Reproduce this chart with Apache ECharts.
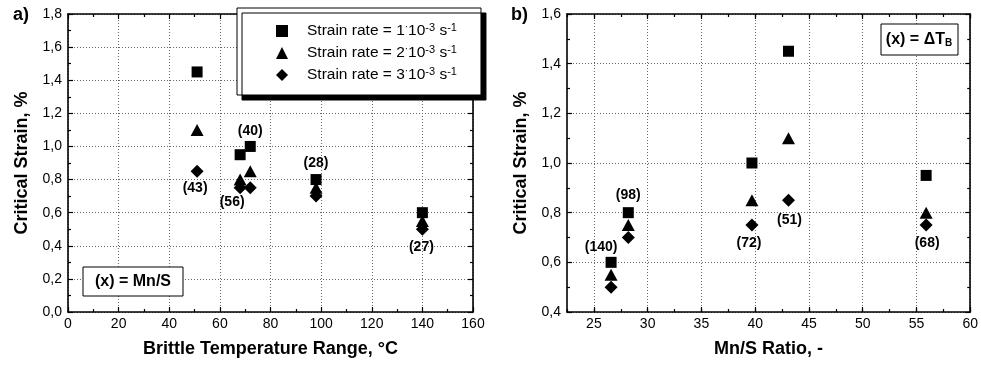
<!DOCTYPE html>
<html><head><meta charset="utf-8">
<script src="https://cdn.jsdelivr.net/npm/echarts@6/dist/echarts.min.js"></script>
<style>html,body{margin:0;padding:0;background:#fff}#c{width:981px;height:367px}</style>
</head><body><div id="c"></div>
<script>
// ---- Data ----
const brittleTempRange = [51, 68, 72, 98, 140];          // x of panel a)
const mnsRatio = [43.1, 55.9, 39.7, 28.2, 26.6];          // x of panel b)
const strainRate1 = [1.45, 0.95, 1.00, 0.80, 0.60];
const strainRate2 = [1.10, 0.80, 0.85, 0.75, 0.55];
const strainRate3 = [0.85, 0.75, 0.75, 0.70, 0.50];
const mnsLabels = ['(43)', '(56)', '(40)', '(28)', '(27)'];
const btrLabels = ['(51)', '(68)', '(72)', '(98)', '(140)'];
const rateNames = ['Strain rate = 1·10⁻³ s⁻¹', 'Strain rate = 2·10⁻³ s⁻¹', 'Strain rate = 3·10⁻³ s⁻¹'];
const rightXTicks = [25, 30, 35, 40, 45, 50, 55, 60];

// ---- Styles ----
const FONT = '"Liberation Sans", Arial, sans-serif';
const symbols = ['rect', 'triangle', 'diamond'];
const symbolSizes = [11, [13, 12], 13];
// label placement per point: which series carries it, offset in px
const leftPlace = [{s: 2, dx: -2, dy: 17}, {s: 2, dx: -8, dy: 14}, {s: 0, dx: 0, dy: -15}, {s: 0, dx: 0, dy: -16}, {s: 2, dx: -1, dy: 17.5}];
const rightPlace = [{s: 2, dx: 1, dy: 20}, {s: 2, dx: 1, dy: 18.5}, {s: 2, dx: -3, dy: 18.5}, {s: 0, dx: 0, dy: -18}, {s: 0, dx: -10, dy: -15.5}];

const axisLine = {show: true, onZero: false, lineStyle: {color: '#000', width: 1.6}};
const noLine = {show: false};
const tick = {show: true, inside: true, length: 5, lineStyle: {color: '#000', width: 1.2}};
const minor = {show: true, splitNumber: 2, length: 3, lineStyle: {color: '#000', width: 1.2}};
const gridLine = {show: true, lineStyle: {color: '#666', width: 1, type: [1, 2]}};
const labelStyle = {color: '#000', fontSize: 14, fontFamily: FONT};
const nameStyle = {color: '#000', fontSize: 18, fontWeight: 'bold', fontFamily: FONT};
const commaFmt = v => v.toFixed(1).replace('.', ',');

function buildSeries(xs, ys, sIdx, place, texts, xAxisIndex, yAxisIndex) {
  return {
    type: 'scatter', name: rateNames[sIdx], xAxisIndex, yAxisIndex,
    symbol: symbols[sIdx], symbolSize: symbolSizes[sIdx],
    itemStyle: {color: '#000', opacity: 1},
    data: xs.map((x, i) => {
      const item = {value: [x, ys[i]]};
      if (place[i].s === sIdx) {
        item.label = {show: true, position: 'inside', offset: [place[i].dx, place[i].dy],
          formatter: texts[i], color: '#000', opacity: 1, fontSize: 14, fontWeight: 'bold', fontFamily: FONT,
          textBorderWidth: 0};
      }
      return item;
    })
  };
}
const strains = [strainRate1, strainRate2, strainRate3];
const series = [];
strains.forEach((ys, k) => series.push(buildSeries(brittleTempRange, ys, k, leftPlace, mnsLabels, 0, 0)));
strains.forEach((ys, k) => series.push(buildSeries(mnsRatio, ys, k, rightPlace, btrLabels, 2, 2)));

const option = {
  animation: false,
  backgroundColor: '#fff',
  grid: [
    {left: 68, top: 14, width: 405, height: 298},
    {left: 567, top: 14, width: 405, height: 298}
  ],
  xAxis: [
    {gridIndex: 0, type: 'value', position: 'bottom', min: 0, max: 160, interval: 20,
      axisLine, axisTick: tick, minorTick: minor,
      axisLabel: {...labelStyle, margin: 5}, splitLine: gridLine,
      name: 'Brittle Temperature Range, °C', nameLocation: 'middle', nameGap: 28, nameTextStyle: nameStyle},
    {gridIndex: 0, type: 'value', position: 'top', min: 0, max: 160, interval: 20,
      axisLine, axisTick: tick, minorTick: minor, axisLabel: {show: false}, splitLine: {show: false}},
    {gridIndex: 1, type: 'value', position: 'bottom', min: 22.5, max: 60,
      axisLine, axisTick: {...tick, customValues: rightXTicks},
      axisLabel: {...labelStyle, margin: 5, customValues: rightXTicks}, splitLine: gridLine,
      name: 'Mn/S Ratio, -', nameLocation: 'middle', nameGap: 28, nameTextStyle: nameStyle},
    {gridIndex: 1, type: 'value', position: 'bottom', min: 22.5, max: 60, interval: 2.5,
      axisLine: noLine, axisTick: {...tick, length: 3}, axisLabel: {show: false}, splitLine: {show: false}},
    {gridIndex: 1, type: 'value', position: 'top', min: 22.5, max: 60,
      axisLine, axisTick: {...tick, customValues: rightXTicks}, axisLabel: {show: false}, splitLine: {show: false}},
    {gridIndex: 1, type: 'value', position: 'top', min: 22.5, max: 60, interval: 2.5,
      axisLine: noLine, axisTick: {...tick, length: 3}, axisLabel: {show: false}, splitLine: {show: false}}
  ],
  yAxis: [
    {gridIndex: 0, type: 'value', position: 'left', min: 0, max: 1.8, interval: 0.2,
      axisLine, axisTick: tick, minorTick: minor,
      axisLabel: {...labelStyle, margin: 6, formatter: commaFmt}, splitLine: gridLine,
      name: 'Critical Strain, %', nameLocation: 'middle', nameGap: 37, nameTextStyle: nameStyle},
    {gridIndex: 0, type: 'value', position: 'right', min: 0, max: 1.8, interval: 0.2,
      axisLine, axisTick: tick, minorTick: minor, axisLabel: {show: false}, splitLine: {show: false}},
    {gridIndex: 1, type: 'value', position: 'left', min: 0.4, max: 1.6, interval: 0.2,
      axisLine, axisTick: tick, minorTick: minor,
      axisLabel: {...labelStyle, margin: 6, formatter: commaFmt}, splitLine: gridLine,
      name: 'Critical Strain, %', nameLocation: 'middle', nameGap: 37, nameTextStyle: nameStyle},
    {gridIndex: 1, type: 'value', position: 'right', min: 0.4, max: 1.6, interval: 0.2,
      axisLine, axisTick: tick, minorTick: minor, axisLabel: {show: false}, splitLine: {show: false}}
  ],
  legend: {
    data: rateNames, orient: 'vertical', left: 237, top: 8,
    padding: [14, 24, 11, 39], itemGap: 4, itemWidth: 12, itemHeight: 12,
    backgroundColor: '#fff', borderColor: '#000', borderWidth: 1,
    shadowColor: '#000', shadowOffsetX: 5, shadowOffsetY: 5, shadowBlur: 0,
    selectedMode: false,
    itemStyle: {color: '#000', opacity: 1},
    formatter: n => n.replace('·', '{dot|·}').replace('⁻³', '{sup|-3}').replace('⁻¹', '{sup|-1}'),
    textStyle: {color: '#000', fontSize: 15.5, fontFamily: FONT, lineHeight: 18, padding: [0, 0, 0, 14],
      rich: {
        sup: {fontSize: 11, fontFamily: FONT, color: '#000', verticalAlign: 'top', lineHeight: 10},
        dot: {fontSize: 10, fontFamily: FONT, color: '#000', verticalAlign: 'top', lineHeight: 12}
      }}
  },
  graphic: [
    {type: 'text', x: 13, y: 15, z: 10, style: {text: 'a)', font: 'bold 18px ' + FONT, fill: '#000', align: 'left', verticalAlign: 'middle'}},
    {type: 'text', x: 511, y: 15, z: 10, style: {text: 'b)', font: 'bold 18px ' + FONT, fill: '#000', align: 'left', verticalAlign: 'middle'}},
    {type: 'rect', z: 10, shape: {x: 83, y: 267, width: 100, height: 29}, style: {fill: '#fff', stroke: '#000', lineWidth: 1}},
    {type: 'text', z: 11, x: 133, y: 281.5, style: {text: '(x) = Mn/S', font: 'bold 16px ' + FONT, fill: '#000', align: 'center', verticalAlign: 'middle'}},
    {type: 'rect', z: 10, shape: {x: 881, y: 24, width: 77, height: 31}, style: {fill: '#fff', stroke: '#000', lineWidth: 1}},
    {type: 'text', z: 11, x: 919, y: 40, style: {text: '(x) = ΔT{sub|B}', font: 'bold 16px ' + FONT, fill: '#000', align: 'center', verticalAlign: 'middle',
      rich: {sub: {fontSize: 10, fontWeight: 'bold', fontFamily: FONT, fill: '#000', verticalAlign: 'bottom', lineHeight: 10, padding: [6, 0, 0, 0]}}}}
  ],
  series
};
const chart = echarts.init(document.getElementById('c'), null, {renderer: 'canvas'});
chart.setOption(option);
</script></body></html>
